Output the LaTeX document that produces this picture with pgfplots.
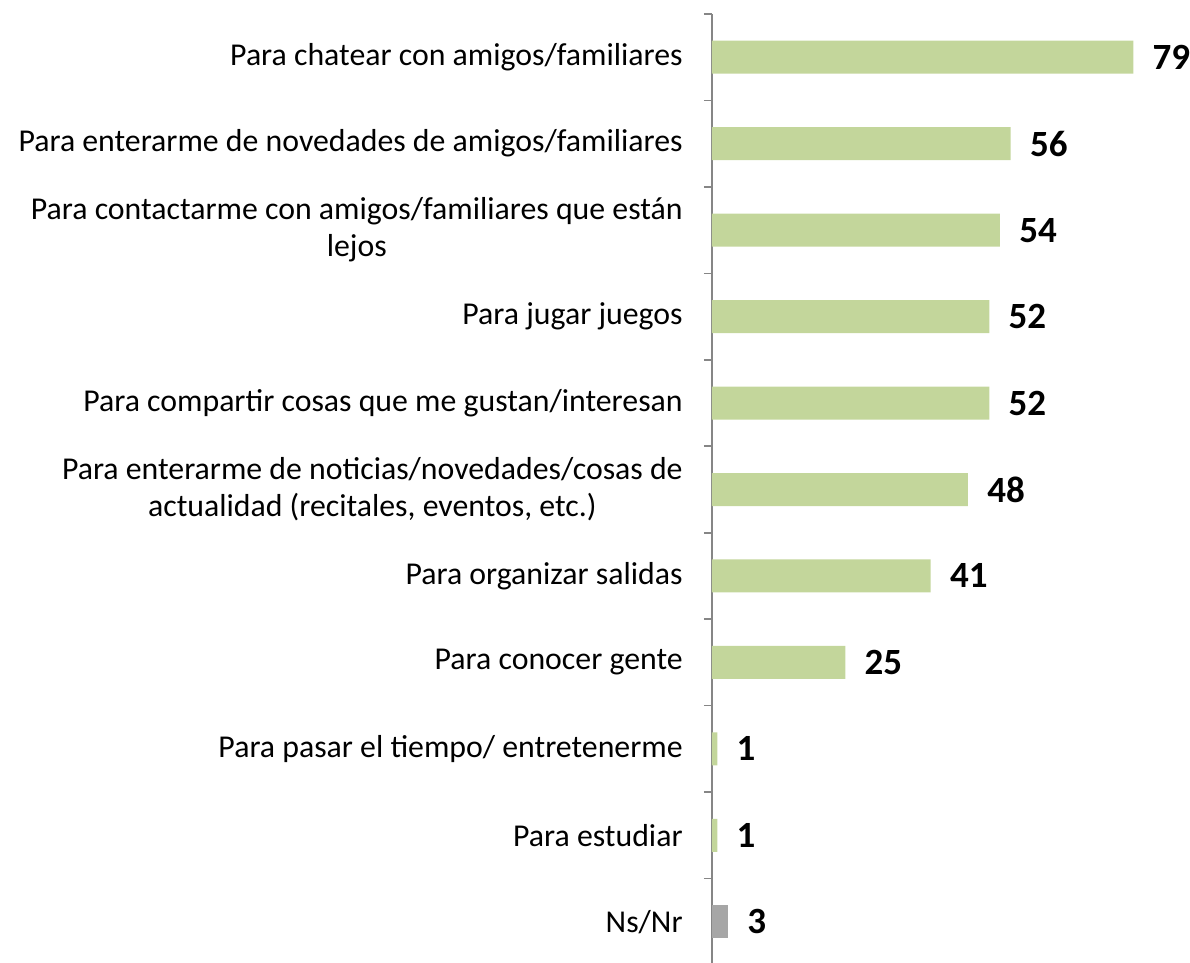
\documentclass[border=0pt]{standalone}
\usepackage{pgfplots}
\pgfplotsset{compat=1.18}
\usepackage{fontspec}
\setmainfont{Carlito}
\definecolor{barg}{HTML}{C3D69B}
\definecolor{barn}{HTML}{A6A6A6}
\definecolor{axg}{HTML}{868686}
\begin{document}
\begin{tikzpicture}
\begin{axis}[
  at={(356pt,-1pt)}, anchor=south west,
  scale only axis, width=240pt, height=475.5pt,
  xbar, bar width=16.5pt, bar shift=0pt,
  xmin=0, xmax=90, ymin=-0.5, ymax=10.5, y dir=reverse,
  axis x line=none, axis y line*=left,
  xtick=\empty,
  ytick={0,...,10},
  yticklabels={Para chatear con amigos/familiares,
    Para enterarme de novedades de amigos/familiares,
    {Para contactarme con amigos/familiares que están\\lejos},
    Para jugar juegos,
    Para compartir cosas que me gustan/interesan,
    {Para enterarme de noticias/novedades/cosas de\\actualidad (recitales, eventos, etc.)},
    Para organizar salidas,
    Para conocer gente,
    Para pasar el tiempo/ entretenerme,
    Para estudiar,
    Ns/Nr},
  major tick length=0pt,
  minor ytick={-0.5,0.5,...,10.5},
  minor tick length=4pt,
  tick align=outside,
  every minor tick/.style={draw=axg, line width=0.8pt},
  y axis line style={draw=axg, line width=0.8pt},
  y tick label style={font=\fontsize{15.9}{18.5}\selectfont, align=center, inner sep=0pt, xshift=-14.5pt},
  /pgf/number format/assume math mode=true,
  nodes near coords,
  nodes near coords style={font=\bfseries\fontsize{18.5}{20}\selectfont, anchor=west, inner sep=0pt, xshift=9.5pt, text=black},
]
\addplot[fill=barg, draw=none] coordinates {(79,0) (56,1) (54,2) (52,3) (52,4) (48,5) (41,6) (25,7) (1,8) (1,9)};
\addplot[fill=barn, draw=none] coordinates {(3,10)};
\end{axis}
\pgfresetboundingbox
\path (0,0) rectangle (595pt,481.5pt);
\end{tikzpicture}
\end{document}
